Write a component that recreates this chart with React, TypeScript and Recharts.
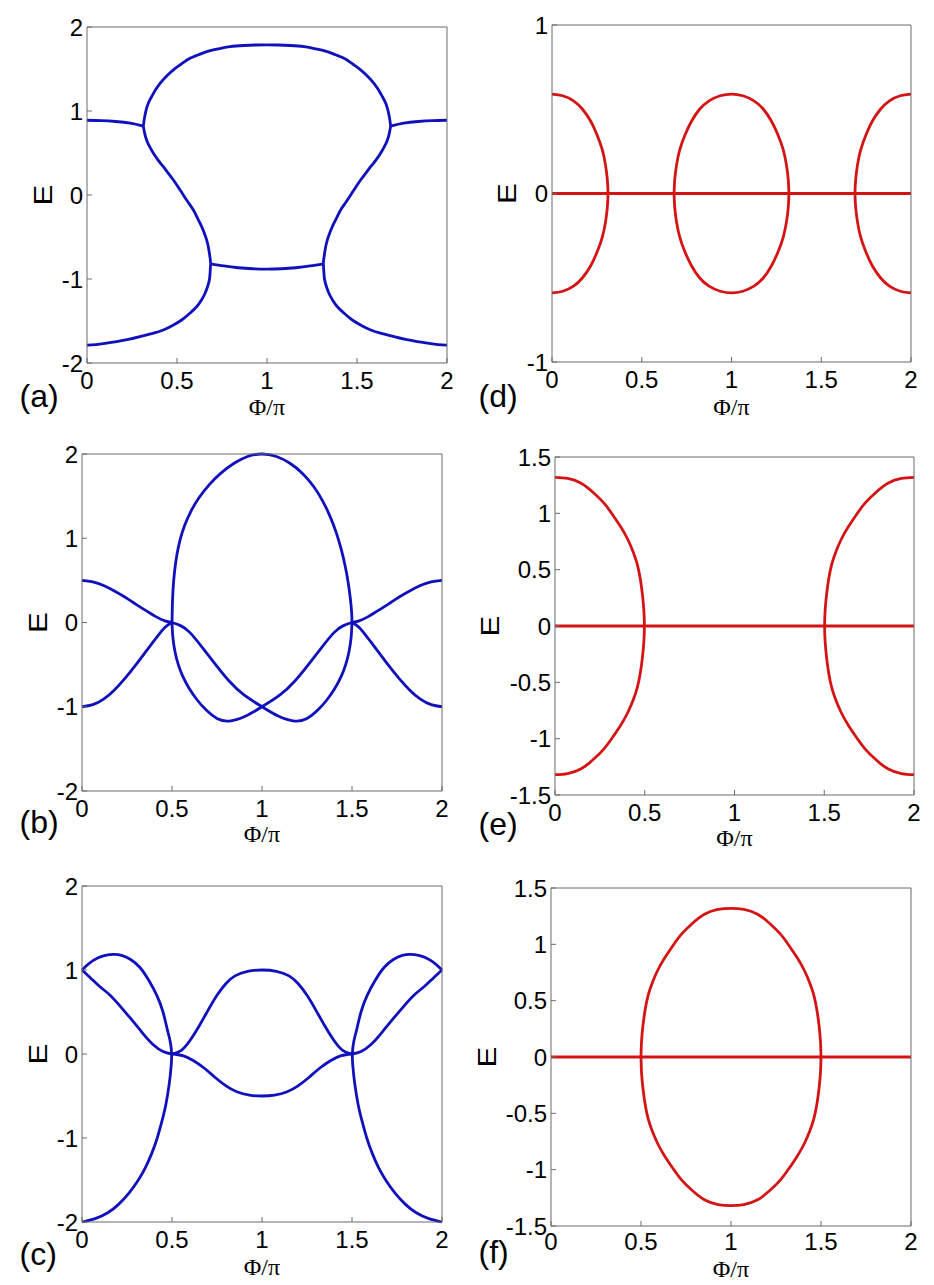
import { Line, LineChart, XAxis, YAxis } from "recharts";

type Pt = { x: number; y: number };
const pts = (pairs: number[][]): Pt[] => pairs.map(([x, y]) => ({ x, y }));

const X_TICKS = [0, 0.5, 1, 1.5, 2];
const Y_TICKS_2 = [-2, -1, 0, 1, 2];
const Y_TICKS_1 = [-1, 0, 1];
const Y_TICKS_15 = [-1.5, -1, -0.5, 0, 0.5, 1, 1.5];

// (a)
const aSideL = [[0, 0.89], [0.08, 0.886], [0.16, 0.875], [0.24, 0.855], [0.313, 0.82]];
const aSideR = [[1.687, 0.82], [1.76, 0.855], [1.84, 0.875], [1.92, 0.886], [2, 0.89]];
const aTop = [[0.313, 0.82], [0.318, 0.9], [0.326, 0.99], [0.34, 1.09], [0.359, 1.17], [0.38, 1.25], [0.406, 1.33], [0.44, 1.41], [0.48, 1.49], [0.525, 1.56], [0.572, 1.627], [0.62, 1.67], [0.665, 1.706], [0.73, 1.74], [0.794, 1.766], [0.87, 1.78], [0.935, 1.786], [1, 1.787], [1.065, 1.786], [1.13, 1.78], [1.206, 1.766], [1.27, 1.74], [1.335, 1.706], [1.38, 1.67], [1.428, 1.627], [1.475, 1.56], [1.52, 1.49], [1.56, 1.41], [1.594, 1.33], [1.62, 1.25], [1.641, 1.17], [1.66, 1.09], [1.674, 0.99], [1.682, 0.9], [1.687, 0.82]];
const aMidL = [[0.313, 0.82], [0.32, 0.74], [0.331, 0.655], [0.348, 0.575], [0.369, 0.496], [0.395, 0.415], [0.424, 0.337], [0.452, 0.258], [0.48, 0.179], [0.508, 0.09], [0.535, 0], [0.563, -0.09], [0.591, -0.179], [0.615, -0.28], [0.637, -0.377], [0.653, -0.46], [0.665, -0.536], [0.674, -0.615], [0.68, -0.694], [0.685, -0.77], [0.687, -0.82]];
const aMidR = [[1.687, 0.82], [1.68, 0.74], [1.669, 0.655], [1.652, 0.575], [1.631, 0.496], [1.605, 0.415], [1.576, 0.337], [1.548, 0.258], [1.52, 0.179], [1.492, 0.09], [1.465, 0], [1.437, -0.09], [1.409, -0.179], [1.385, -0.28], [1.363, -0.377], [1.347, -0.46], [1.335, -0.536], [1.326, -0.615], [1.32, -0.694], [1.315, -0.77], [1.313, -0.82]];
const aBot = [[0.687, -0.82], [0.76, -0.845], [0.84, -0.866], [0.92, -0.878], [1, -0.882], [1.08, -0.878], [1.16, -0.866], [1.24, -0.845], [1.313, -0.82]];
const aLowL = [[0.687, -0.82], [0.684, -0.92], [0.68, -1.01], [0.67, -1.09], [0.656, -1.17], [0.636, -1.25], [0.609, -1.33], [0.57, -1.41], [0.526, -1.488], [0.478, -1.55], [0.424, -1.607], [0.36, -1.65], [0.294, -1.687], [0.23, -1.72], [0.165, -1.746], [0.1, -1.767], [0.05, -1.78], [0, -1.786]];
const aLowR = [[1.313, -0.82], [1.316, -0.92], [1.32, -1.01], [1.33, -1.09], [1.344, -1.17], [1.364, -1.25], [1.391, -1.33], [1.43, -1.41], [1.474, -1.488], [1.522, -1.55], [1.576, -1.607], [1.64, -1.65], [1.706, -1.687], [1.77, -1.72], [1.835, -1.746], [1.9, -1.767], [1.95, -1.78], [2, -1.786]];

// (b)
const b1 = [[0, 0.5], [0.06, 0.483], [0.12, 0.44], [0.18, 0.375], [0.24, 0.3], [0.3, 0.215], [0.36, 0.135], [0.41, 0.07], [0.46, 0.02], [0.5, 0]];
const b2 = [[0, -1], [0.06, -0.975], [0.12, -0.91], [0.18, -0.8], [0.24, -0.66], [0.3, -0.5], [0.36, -0.33], [0.41, -0.19], [0.46, -0.06], [0.5, 0]];
const b3 = [[0.5, 0], [0.55, -0.04], [0.6, -0.12], [0.67, -0.3], [0.75, -0.52], [0.82, -0.7], [0.9, -0.86], [1, -1], [1.09, -1.11], [1.18, -1.17], [1.25, -1.14], [1.31, -1.04], [1.36, -0.92], [1.405, -0.78], [1.44, -0.64], [1.465, -0.5], [1.483, -0.35], [1.495, -0.18], [1.5, 0]];
const b4 = [[1.5, 0], [1.45, -0.04], [1.4, -0.12], [1.33, -0.3], [1.25, -0.52], [1.18, -0.7], [1.1, -0.86], [1, -1], [0.91, -1.11], [0.82, -1.17], [0.75, -1.14], [0.69, -1.04], [0.64, -0.92], [0.595, -0.78], [0.56, -0.64], [0.535, -0.5], [0.517, -0.35], [0.505, -0.18], [0.5, 0]];
const b5 = [[0.5, 0], [0.502, 0.2], [0.506, 0.4], [0.514, 0.6], [0.527, 0.8], [0.545, 0.98], [0.57, 1.15], [0.605, 1.32], [0.65, 1.48], [0.705, 1.63], [0.77, 1.77], [0.845, 1.89], [0.92, 1.97], [1, 2.0], [1.08, 1.97], [1.155, 1.89], [1.225, 1.77], [1.285, 1.62], [1.335, 1.45], [1.378, 1.26], [1.412, 1.07], [1.44, 0.87], [1.462, 0.67], [1.479, 0.47], [1.491, 0.28], [1.498, 0.12], [1.5, 0]];
const b6 = [[1.5, 0], [1.54, 0.02], [1.59, 0.07], [1.64, 0.135], [1.7, 0.215], [1.76, 0.3], [1.82, 0.375], [1.88, 0.44], [1.94, 0.483], [2, 0.5]];
const b7 = [[1.5, 0], [1.54, -0.06], [1.59, -0.19], [1.64, -0.33], [1.7, -0.5], [1.76, -0.66], [1.82, -0.8], [1.88, -0.91], [1.94, -0.975], [2, -1]];

// (c)
const c1 = [[0, 1.0], [0.04, 1.08], [0.09, 1.145], [0.13, 1.175], [0.174, 1.187], [0.22, 1.175], [0.27, 1.125], [0.322, 1.03], [0.37, 0.88], [0.415, 0.7], [0.45, 0.5], [0.473, 0.3], [0.49, 0.15], [0.498, 0], [0.495, -0.15], [0.485, -0.35], [0.466, -0.6], [0.444, -0.8], [0.418, -1.0], [0.388, -1.18], [0.353, -1.35], [0.313, -1.5], [0.263, -1.65], [0.203, -1.79], [0.143, -1.89], [0.073, -1.96], [0, -2.0]];
const c2 = [[0, 1.0], [0.05, 0.9], [0.1, 0.8], [0.156, 0.7], [0.22, 0.55], [0.285, 0.385], [0.34, 0.24], [0.396, 0.11], [0.45, 0.03], [0.5, 0]];
const c3 = [[0.5, 0], [0.55, 0.04], [0.6, 0.16], [0.65, 0.33], [0.7, 0.52], [0.75, 0.7], [0.8, 0.84], [0.85, 0.93], [0.92, 0.985], [1, 1.0], [1.08, 0.985], [1.15, 0.93], [1.2, 0.84], [1.25, 0.7], [1.3, 0.52], [1.35, 0.33], [1.4, 0.16], [1.45, 0.04], [1.5, 0]];
const c4 = [[0.5, 0], [0.56, -0.02], [0.62, -0.08], [0.68, -0.17], [0.74, -0.28], [0.8, -0.38], [0.86, -0.45], [0.93, -0.49], [1, -0.5], [1.07, -0.49], [1.14, -0.45], [1.2, -0.38], [1.26, -0.28], [1.32, -0.17], [1.38, -0.08], [1.44, -0.02], [1.5, 0]];
const c5 = [[2, 1.0], [1.96, 1.08], [1.91, 1.145], [1.87, 1.175], [1.826, 1.187], [1.78, 1.175], [1.73, 1.125], [1.678, 1.03], [1.63, 0.88], [1.585, 0.7], [1.55, 0.5], [1.527, 0.3], [1.51, 0.15], [1.502, 0], [1.505, -0.15], [1.515, -0.35], [1.534, -0.6], [1.556, -0.8], [1.582, -1.0], [1.612, -1.18], [1.647, -1.35], [1.687, -1.5], [1.737, -1.65], [1.797, -1.79], [1.857, -1.89], [1.927, -1.96], [2, -2.0]];
const c6 = [[1.5, 0], [1.55, 0.03], [1.604, 0.11], [1.66, 0.24], [1.715, 0.385], [1.78, 0.55], [1.844, 0.7], [1.9, 0.8], [1.95, 0.9], [2, 1.0]];

// (d)
const dLeft = [[0, 0.59], [0.06, 0.58], [0.12, 0.55], [0.17, 0.5], [0.215, 0.43], [0.25, 0.35], [0.28, 0.26], [0.298, 0.17], [0.308, 0.085], [0.312, 0], [0.308, -0.085], [0.298, -0.17], [0.28, -0.26], [0.25, -0.35], [0.215, -0.43], [0.17, -0.5], [0.12, -0.55], [0.06, -0.58], [0, -0.59]];
const dMidTop = [[0.68, 0], [0.684, 0.085], [0.694, 0.17], [0.712, 0.26], [0.742, 0.35], [0.778, 0.43], [0.822, 0.5], [0.875, 0.55], [0.937, 0.58], [1, 0.59], [1.063, 0.58], [1.125, 0.55], [1.178, 0.5], [1.222, 0.43], [1.258, 0.35], [1.288, 0.26], [1.306, 0.17], [1.316, 0.085], [1.32, 0]];
const dMidBot = [[0.68, 0], [0.684, -0.085], [0.694, -0.17], [0.712, -0.26], [0.742, -0.35], [0.778, -0.43], [0.822, -0.5], [0.875, -0.55], [0.937, -0.58], [1, -0.59], [1.063, -0.58], [1.125, -0.55], [1.178, -0.5], [1.222, -0.43], [1.258, -0.35], [1.288, -0.26], [1.306, -0.17], [1.316, -0.085], [1.32, 0]];
const dRight = [[2, 0.59], [1.94, 0.58], [1.88, 0.55], [1.83, 0.5], [1.785, 0.43], [1.75, 0.35], [1.72, 0.26], [1.702, 0.17], [1.692, 0.085], [1.688, 0], [1.692, -0.085], [1.702, -0.17], [1.72, -0.26], [1.75, -0.35], [1.785, -0.43], [1.83, -0.5], [1.88, -0.55], [1.94, -0.58], [2, -0.59]];
const zeroLine = [[0, 0], [2, 0]];

// (e)
const eLeft = [[0, 1.32], [0.07, 1.31], [0.143, 1.27], [0.21, 1.19], [0.273, 1.09], [0.32, 0.99], [0.366, 0.88], [0.405, 0.77], [0.435, 0.66], [0.458, 0.55], [0.475, 0.42], [0.487, 0.28], [0.495, 0.14], [0.498, 0], [0.495, -0.14], [0.487, -0.28], [0.475, -0.42], [0.458, -0.55], [0.435, -0.66], [0.405, -0.77], [0.366, -0.88], [0.32, -0.99], [0.273, -1.09], [0.21, -1.19], [0.143, -1.27], [0.07, -1.31], [0, -1.32]];
const eRight = [[2, 1.32], [1.93, 1.31], [1.857, 1.27], [1.79, 1.19], [1.727, 1.09], [1.68, 0.99], [1.634, 0.88], [1.595, 0.77], [1.565, 0.66], [1.542, 0.55], [1.525, 0.42], [1.513, 0.28], [1.505, 0.14], [1.502, 0], [1.505, -0.14], [1.513, -0.28], [1.525, -0.42], [1.542, -0.55], [1.565, -0.66], [1.595, -0.77], [1.634, -0.88], [1.68, -0.99], [1.727, -1.09], [1.79, -1.19], [1.857, -1.27], [1.93, -1.31], [2, -1.32]];

// (f)
const fTop = [[0.5, 0], [0.503, 0.14], [0.511, 0.28], [0.523, 0.42], [0.54, 0.55], [0.563, 0.66], [0.593, 0.77], [0.632, 0.88], [0.678, 0.99], [0.725, 1.09], [0.788, 1.19], [0.855, 1.27], [0.928, 1.31], [1, 1.32], [1.072, 1.31], [1.145, 1.27], [1.212, 1.19], [1.275, 1.09], [1.322, 0.99], [1.368, 0.88], [1.407, 0.77], [1.437, 0.66], [1.46, 0.55], [1.477, 0.42], [1.489, 0.28], [1.497, 0.14], [1.5, 0]];
const fBot = [[0.5, 0], [0.503, -0.14], [0.511, -0.28], [0.523, -0.42], [0.54, -0.55], [0.563, -0.66], [0.593, -0.77], [0.632, -0.88], [0.678, -0.99], [0.725, -1.09], [0.788, -1.19], [0.855, -1.27], [0.928, -1.31], [1, -1.32], [1.072, -1.31], [1.145, -1.27], [1.212, -1.19], [1.275, -1.09], [1.322, -0.99], [1.368, -0.88], [1.407, -0.77], [1.437, -0.66], [1.46, -0.55], [1.477, -0.42], [1.489, -0.28], [1.497, -0.14], [1.5, 0]];

const BLUE = "#1010bc";
const RED = "#d41414";
const AXIS = "#6b6b6b";
const SANS = "'Liberation Sans', Arial, Helvetica, sans-serif";
const SERIF = "'Liberation Serif', 'Times New Roman', serif";

interface PanelSpec {
  letter: string;
  frame: [number, number, number, number]; // x, y, w, h of the svg
  box: [number, number, number, number]; // plot box: left, top, right, bottom
  yDomain: [number, number];
  yTicks: number[];
  color: string;
  segments: number[][][];
  eX: number;
  xTickGap: number;
  xTitleY: number;
  letterX: number;
  letterY: number;
}

const panels: PanelSpec[] = [
  { letter: "(a)", frame: [0, 0, 467, 428], box: [87, 27, 447, 363], yDomain: [-2, 2], yTicks: Y_TICKS_2, color: BLUE,
    segments: [aSideL, aSideR, aTop, aMidL, aMidR, aBot, aLowL, aLowR], eX: 42.5, xTickGap: 14, xTitleY: 415, letterX: 19.5, letterY: 406.5 },
  { letter: "(d)", frame: [467, 0, 467, 428], box: [552, 25, 911, 362], yDomain: [-1, 1], yTicks: Y_TICKS_1, color: RED,
    segments: [zeroLine, dLeft, dMidTop, dMidBot, dRight], eX: 506.5, xTickGap: 14, xTitleY: 415, letterX: 478.5, letterY: 406.5 },
  { letter: "(b)", frame: [0, 428, 467, 428], box: [82, 454, 442, 791], yDomain: [-2, 2], yTicks: Y_TICKS_2, color: BLUE,
    segments: [b1, b2, b3, b4, b5, b6, b7], eX: 37.5, xTickGap: 14, xTitleY: 842, letterX: 19.5, letterY: 833 },
  { letter: "(e)", frame: [467, 428, 467, 428], box: [555, 457, 914, 795], yDomain: [-1.5, 1.5], yTicks: Y_TICKS_15, color: RED,
    segments: [zeroLine, eLeft, eRight], eX: 490, xTickGap: 14, xTitleY: 846, letterX: 478.5, letterY: 835 },
  { letter: "(c)", frame: [0, 856, 467, 429], box: [82, 886, 442, 1222], yDomain: [-2, 2], yTicks: Y_TICKS_2, color: BLUE,
    segments: [c1, c2, c3, c4, c5, c6], eX: 37.5, xTickGap: 14, xTitleY: 1275, letterX: 19.5, letterY: 1265 },
  { letter: "(f)", frame: [467, 856, 467, 429], box: [551, 888, 911, 1226], yDomain: [-1.5, 1.5], yTicks: Y_TICKS_15, color: RED,
    segments: [zeroLine, fTop, fBot], eX: 486.5, xTickGap: 12, xTitleY: 1277, letterX: 478.5, letterY: 1263 },
];

const tickStyle = { fill: "#000", fontSize: 24, fontFamily: SANS };
// axes need a non-zero size to be drawn; each one takes 1px that the margins give back
const AX = 1;

function Panel({ spec }: { spec: PanelSpec }) {
  const [fx, fy, fw, fh] = spec.frame;
  const [bl, bt, br, bb] = spec.box;
  const margin = {
    left: bl - fx - AX,
    top: bt - fy - AX,
    right: fx + fw - br - AX,
    bottom: fy + fh - bb - AX,
  };
  const midX = (bl + br) / 2 - fx;
  const midY = (bt + bb) / 2 - fy;
  const ex = spec.eX - fx;

  return (
    <div style={{ position: "absolute", left: fx, top: fy, width: fw, height: fh }}>
      <LineChart width={fw} height={fh} margin={margin}>
        <XAxis
          xAxisId="x"
          type="number"
          dataKey="x"
          domain={[0, 2]}
          ticks={X_TICKS}
          interval={0}
          height={AX}
          tickSize={-5}
          tickMargin={spec.xTickGap}
          stroke={AXIS}
          tick={tickStyle}
          label={() => (
            <text x={midX} y={spec.xTitleY - fy} textAnchor="middle" fontSize={24} fontFamily={SERIF} fill="#000">
              Φ/π
            </text>
          )}
        />
        <XAxis
          xAxisId="top"
          orientation="top"
          type="number"
          domain={[0, 2]}
          allowDataOverflow
          ticks={X_TICKS}
          interval={0}
          height={AX}
          tickSize={-5}
          tick={false}
          stroke={AXIS}
          label={() => (
            <text x={spec.letterX - fx} y={spec.letterY - fy} fontSize={32} fontFamily={SANS} fill="#000">
              {spec.letter}
            </text>
          )}
        />
        <YAxis
          yAxisId="y"
          type="number"
          dataKey="y"
          domain={spec.yDomain}
          ticks={spec.yTicks}
          interval={0}
          width={AX}
          tickSize={-5}
          tickMargin={9}
          stroke={AXIS}
          tick={tickStyle}
          label={() => (
            <text
              x={0}
              y={0}
              transform={`translate(${ex} ${midY}) rotate(-90) scale(1.2 1)`}
              textAnchor="middle"
              dominantBaseline="central"
              fontSize={26}
              fontFamily={SANS}
              fill="#000"
            >
              E
            </text>
          )}
        />
        <YAxis
          yAxisId="right"
          orientation="right"
          type="number"
          domain={spec.yDomain}
          allowDataOverflow
          ticks={spec.yTicks}
          interval={0}
          width={AX}
          tickSize={-5}
          tick={false}
          stroke={AXIS}
        />
        {spec.segments.map((seg, i) => (
          <Line
            key={i}
            xAxisId="x"
            yAxisId="y"
            data={pts(seg)}
            dataKey="y"
            type="natural"
            stroke={spec.color}
            strokeWidth={2.8}
            dot={false}
            activeDot={false}
            isAnimationActive={false}
          />
        ))}
      </LineChart>
    </div>
  );
}

export default function App() {
  return (
    <div style={{ position: "absolute", left: 0, top: 0, width: 934, height: 1285, background: "#fff" }}>
      {panels.map((p) => (
        <Panel key={p.letter} spec={p} />
      ))}
    </div>
  );
}
